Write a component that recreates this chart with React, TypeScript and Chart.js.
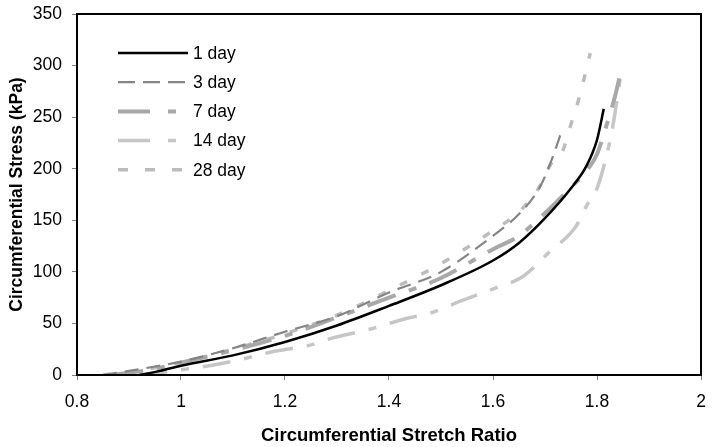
import React, { useEffect, useRef } from 'react';
import { Chart, registerables } from 'chart.js';

Chart.register(...registerables);

const seriesLabels = ['1 day', '3 day', '7 day', '14 day', '28 day'];

const day1X = [0.92, 0.96, 1.0, 1.1, 1.2, 1.3, 1.4, 1.5, 1.6, 1.65, 1.7, 1.75, 1.78, 1.8, 1.813];
const day1Y = [0, 4, 9, 19, 32, 48, 67, 87, 111, 128, 152, 181, 203, 228, 258];

const day3X = [0.85, 0.9, 1.0, 1.1, 1.2, 1.3, 1.4, 1.5, 1.6, 1.65, 1.69, 1.71, 1.723, 1.733];
const day3Y = [0, 4, 13, 26, 42, 57, 80, 100, 135, 156, 182, 205, 223, 238];

const day7X = [0.87, 0.95, 1.0, 1.1, 1.2, 1.3, 1.4, 1.5, 1.6, 1.65, 1.7, 1.75, 1.78, 1.8, 1.82, 1.835, 1.848];
const day7Y = [0, 6, 12, 24, 38, 56, 75, 94, 122, 135, 157, 182, 198, 214, 245, 271, 299];

const day14X = [0.92, 1.0, 1.065, 1.11, 1.18, 1.248, 1.292, 1.36, 1.435, 1.479, 1.54, 1.608, 1.656, 1.71, 1.758, 1.781, 1.8, 1.815, 1.83, 1.848];
const day14Y = [0, 5, 10, 14.5, 23, 29, 36, 44, 55, 60, 72, 85, 95, 120, 143, 165, 181, 206, 240, 299];

const day28X = [0.85, 0.9, 1.0, 1.1, 1.2, 1.3, 1.4, 1.5, 1.6, 1.65, 1.69, 1.713, 1.733, 1.748, 1.763, 1.773, 1.787];
const day28Y = [0, 3, 12, 25, 40, 58, 82, 108, 140, 158, 183, 206, 216, 240, 264, 283, 312];

const xTickValues = [0.8, 1, 1.2, 1.4, 1.6, 1.8, 2];
const yTickValues = [0, 50, 100, 150, 200, 250, 300, 350];

const xTitle = 'Circumferential Stretch Ratio';
const yTitle = 'Circumferential Stress (kPa)';

const FONT = '"Liberation Sans", Arial, sans-serif';

function pts(xs: number[], ys: number[]) {
  return xs.map((x, i) => ({ x, y: ys[i] }));
}

const framePlugin = {
  id: 'frame',
  afterDatasetsDraw(chart: any) {
    const { ctx, chartArea } = chart;
    ctx.save();
    ctx.strokeStyle = '#000';
    ctx.lineWidth = 2;
    ctx.strokeRect(chartArea.left, chartArea.top, chartArea.right - chartArea.left, chartArea.bottom - chartArea.top);
    ctx.restore();
  },
};

const legendPlugin = {
  id: 'customLegend',
  afterDraw(chart: any) {
    const ctx = chart.ctx;
    chart.data.datasets.forEach((ds: any, i: number) => {
      const y = 53 + i * 29.2;
      ctx.save();
      ctx.strokeStyle = ds.borderColor;
      ctx.lineWidth = ds.borderWidth;
      ctx.setLineDash(ds.legendDash || ds.borderDash || []);
      ctx.beginPath();
      ctx.moveTo(118, y);
      ctx.lineTo(188, y);
      ctx.stroke();
      ctx.setLineDash([]);
      ctx.fillStyle = '#000';
      ctx.font = '17.5px ' + FONT;
      ctx.textBaseline = 'middle';
      ctx.textAlign = 'left';
      ctx.fillText(ds.label, 193, y + 1);
      ctx.restore();
    });
  },
};

export default function App() {
  const ref = useRef<HTMLCanvasElement | null>(null);

  useEffect(() => {
    if (!ref.current) return;
    const common = { showLine: true, pointRadius: 0, fill: false, cubicInterpolationMode: 'monotone' as const };
    const chart = new Chart(ref.current, {
      type: 'scatter',
      data: {
        datasets: [
          { ...common, label: seriesLabels[0], data: pts(day1X, day1Y), borderColor: '#000000', borderWidth: 2.5 },
          { ...common, label: seriesLabels[1], data: pts(day3X, day3Y), borderColor: '#858585', borderWidth: 2.2, borderDash: [14, 8], legendDash: [17, 8] },
          { ...common, label: seriesLabels[2], data: pts(day7X, day7Y), borderColor: '#a8a8a8', borderWidth: 4, borderDash: [30, 14, 8, 14], legendDash: [32, 18, 8, 18] },
          { ...common, label: seriesLabels[3], data: pts(day14X, day14Y), borderColor: '#c6c6c6', borderWidth: 3.5, borderDash: [28, 14, 8, 14], legendDash: [32, 18, 8, 18] },
          { ...common, label: seriesLabels[4], data: pts(day28X, day28Y), borderColor: '#bcbcbc', borderWidth: 3.5, borderDash: [8, 16], legendDash: [10, 17] },
        ] as any,
      },
      options: {
        animation: false,
        responsive: false,
        maintainAspectRatio: false,
        layout: { padding: { top: 14, right: 11, left: 0, bottom: 0 } },
        plugins: { legend: { display: false }, tooltip: { enabled: false } },
        scales: {
          x: {
            type: 'linear',
            min: 0.8,
            max: 2,
            afterFit: (s: any) => { s.height = 72; s.paddingLeft = 0; s.paddingRight = 0; },
            afterBuildTicks: (s: any) => { s.ticks = xTickValues.map((v) => ({ value: v })); },
            ticks: {
              color: '#000',
              font: { family: FONT, size: 17.5 },
              padding: 12,
              maxRotation: 0,
              callback: (v: any) => String(parseFloat(Number(v).toFixed(2))),
            },
            grid: { display: true, drawOnChartArea: false, drawTicks: true, tickLength: 5, color: '#808080' },
            border: { display: false },
            title: { display: true, text: xTitle, color: '#000', font: { family: FONT, size: 18.5, weight: 'bold' }, padding: { top: 0, bottom: 0 } },
          },
          y: {
            type: 'linear',
            min: 0,
            max: 350,
            afterFit: (s: any) => { s.width = 77; s.paddingTop = 0; s.paddingBottom = 0; },
            afterBuildTicks: (s: any) => { s.ticks = yTickValues.map((v) => ({ value: v })); },
            ticks: { color: '#000', font: { family: FONT, size: 17.5 }, padding: 10 },
            grid: { display: true, drawOnChartArea: false, drawTicks: true, tickLength: 5, color: '#808080' },
            border: { display: false },
            title: { display: true, text: yTitle, color: '#000', font: { family: FONT, size: 17.5, weight: 'bold' }, padding: { top: 7, bottom: 0 } },
          },
        },
      },
      plugins: [framePlugin, legendPlugin],
    });
    return () => chart.destroy();
  }, []);

  return (
    <div style={{ position: 'fixed', left: 0, top: 0, width: 712, height: 447, background: '#fff' }}>
      <canvas ref={ref} width={712} height={447} style={{ width: 712, height: 447, display: 'block' }} />
    </div>
  );
}
